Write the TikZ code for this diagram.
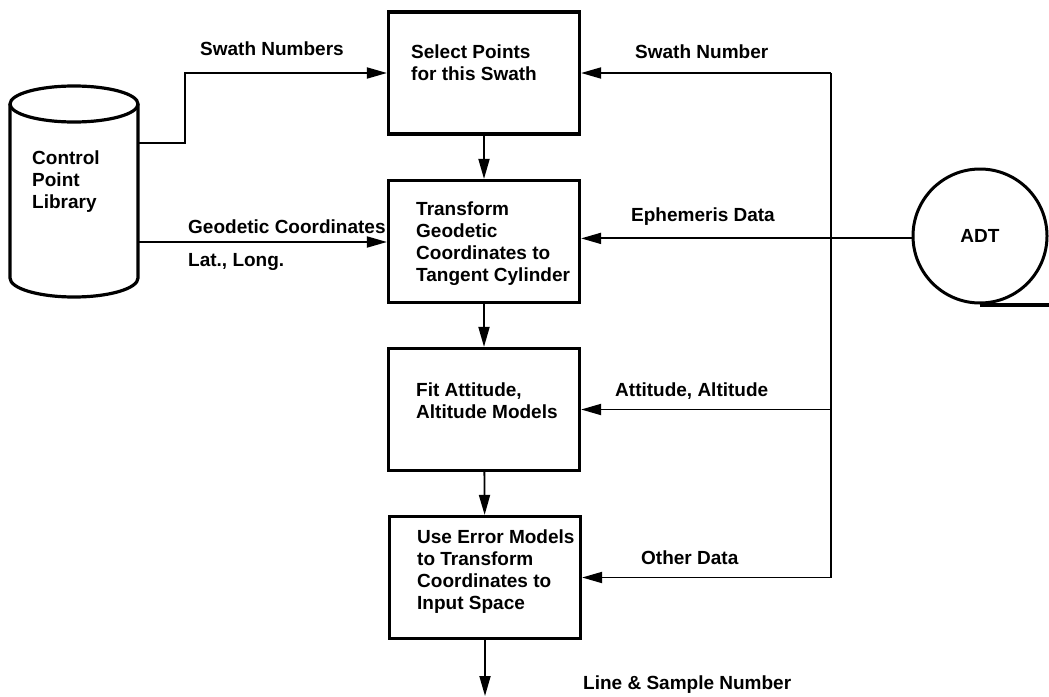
\documentclass[tikz,border=0pt]{standalone}
\usepackage{fontspec}
\setmainfont{Liberation Sans}
\usetikzlibrary{arrows.meta,calc}
\begin{document}
\begin{tikzpicture}[x=1pt,y=-1pt,
  lbl/.style={font=\fontsize{19}{22}\selectfont\bfseries, inner sep=0pt, anchor=west, align=left},
  procbox/.style={draw, line width=3.2pt, minimum width=191pt, minimum height=122pt, inner sep=0pt},
  conn/.style={line width=1.8pt},
  arr/.style={conn, -{Triangle[length=20pt,width=11pt]}},
]
\useasboundingbox (0,0) rectangle (1049,696);

% Control point library (disk cylinder)
\draw[line width=3.2pt] (74,104) ellipse [x radius=64, y radius=18];
\draw[line width=3.2pt] (10,104) -- (10,278)
  arc[start angle=180, end angle=0, x radius=64, y radius=19] -- (138,104);
\node[lbl] (cpl) at (32,182) {Control\\Point\\Library};
\coordinate (cplA) at (138,143);
\coordinate (cplB) at (138,242);
\coordinate (jn) at (185,73);

% Processing steps
\node[procbox] (b1) at (484,73) {};
\node[procbox] (b2) at (484,241.5) {};
\node[procbox] (b3) at (484,409.5) {};
\node[procbox] (b4) at (485,577.5) {};
\node[lbl] (t1) at (411,63) {Select Points\\for this Swath};
\node[lbl] (t2) at (416,244) {Transform\\Geodetic\\Coordinates to\\Tangent Cylinder};
\node[lbl] (t3) at (416,401) {Fit Attitude,\\Altitude Models};
\node[lbl] (t4) at (417,572) {Use Error Models\\to Transform\\Coordinates to\\Input Space};

% Attitude data tape
\node[draw, circle, line width=3pt, minimum size=134pt, inner sep=0pt,
      font=\fontsize{19}{22}\selectfont\bfseries] (adt) at (980,236) {ADT};
\coordinate (tapeend) at (1049,302);
\draw[line width=4pt] (adt.south) -- (adt.south -| tapeend);

% Data distribution bus
\coordinate (bustop) at (831,73);
\coordinate (busbot) at (831,577.5);
\coordinate (out) at (485,696);

% Connectors
\draw[arr] (cplA) -| (jn) -- (b1.west);
\draw[arr] (cplB) -- (cplB -| b2.west);
\draw[arr] (b1) -- (b2);
\draw[arr] (b2) -- (b3);
\draw[arr] (b3) -- (b4);
\draw[arr] (b4) -- (out);
\draw[conn] (bustop) -- (busbot);
\draw[arr] (bustop) -- (b1.east);
\draw[arr] (adt.182) -- (adt.182 -| b2.east);
\draw[arr] (b3.east -| bustop) -- (b3.east);
\draw[arr] (busbot) -- (b4.east);

% Labels
\node[lbl] (l1) at (200,49) {Swath Numbers};
\node[lbl] (l2) at (188,227) {Geodetic Coordinates};
\node[lbl] (l3) at (188,262) {Lat.,  Long.};
\node[lbl] (l4) at (635,52) {Swath Number};
\node[lbl] (l5) at (631,217) {Ephemeris Data};
\node[lbl] (l6) at (615,391) {Attitude, Altitude};
\node[lbl] (l7) at (641,558) {Other Data};
\node[lbl] (l8) at (583,685) {Line \& Sample Number};
\end{tikzpicture}
\end{document}
